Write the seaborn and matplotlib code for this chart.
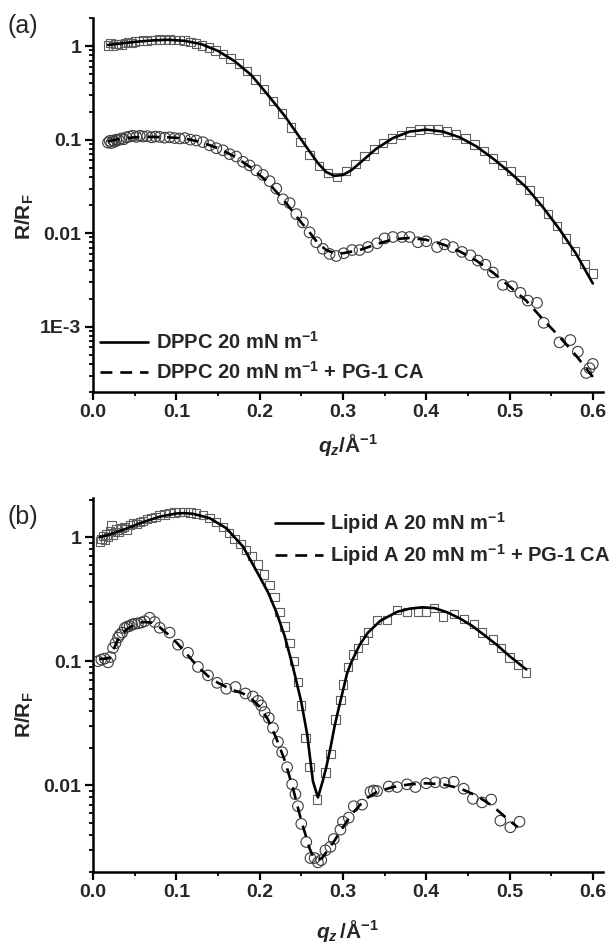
import matplotlib
matplotlib.use("Agg")
import matplotlib.pyplot as plt
import seaborn as sns
import numpy as np
from matplotlib.ticker import (LogLocator, MultipleLocator, FuncFormatter,
                               NullFormatter, FormatStrFormatter)

# ---------------- data: panel (a) DPPC ----------------
qa_sq = [0.018, 0.021, 0.024, 0.027, 0.030, 0.034, 0.038, 0.042, 0.046, 0.050,
         0.055, 0.060, 0.065, 0.070, 0.075, 0.080, 0.086, 0.092, 0.098, 0.104,
         0.110, 0.117, 0.124, 0.131, 0.139, 0.147, 0.156, 0.165, 0.175, 0.185,
         0.195, 0.205, 0.216, 0.227, 0.238, 0.249, 0.260, 0.271, 0.282, 0.293,
         0.304, 0.315, 0.326, 0.337, 0.348, 0.359, 0.370, 0.381, 0.392, 0.403,
         0.414, 0.425, 0.436, 0.447, 0.458, 0.469, 0.480, 0.491, 0.502, 0.513,
         0.524, 0.535, 0.546, 0.557, 0.568, 0.579, 0.590, 0.600]
ra_sq = [1.02, 1.08, 1.00, 1.05, 1.06, 1.04, 1.08, 1.10, 1.08, 1.12,
         1.13, 1.15, 1.14, 1.17, 1.16, 1.18, 1.17, 1.18, 1.17, 1.16,
         1.15, 1.10, 1.07, 1.02, 0.97, 0.90, 0.82, 0.74, 0.65, 0.54,
         0.44, 0.35, 0.26, 0.19, 0.135, 0.095, 0.068, 0.052, 0.044, 0.040,
         0.046, 0.055, 0.067, 0.080, 0.092, 0.103, 0.113, 0.122, 0.128, 0.131,
         0.128, 0.122, 0.114, 0.103, 0.089, 0.076, 0.063, 0.054, 0.046, 0.037,
         0.029, 0.022, 0.016, 0.012, 0.0088, 0.0065, 0.0047, 0.0037]

qa_fit1 = [0.018, 0.03, 0.05, 0.07, 0.09, 0.11, 0.13, 0.15, 0.17, 0.19,
           0.21, 0.23, 0.25, 0.27, 0.28, 0.29, 0.30, 0.31, 0.32, 0.34,
           0.36, 0.38, 0.40, 0.42, 0.44, 0.46, 0.48, 0.50, 0.52, 0.54,
           0.56, 0.58, 0.60]
ra_fit1 = [1.03, 1.06, 1.11, 1.15, 1.17, 1.14, 1.05, 0.89, 0.69, 0.49,
           0.30, 0.18, 0.10, 0.056, 0.045, 0.041, 0.042, 0.047, 0.056, 0.080,
           0.104, 0.122, 0.128, 0.122, 0.106, 0.085, 0.063, 0.045, 0.031, 0.019,
           0.011, 0.0060, 0.0029]

qa_ci = [0.018, 0.020, 0.022, 0.024, 0.026, 0.028, 0.031, 0.034, 0.037, 0.040,
         0.044, 0.048, 0.052, 0.056, 0.060, 0.065, 0.070, 0.075, 0.080, 0.086,
         0.092, 0.098, 0.104, 0.110, 0.117, 0.124, 0.132, 0.140, 0.148, 0.156,
         0.164, 0.172, 0.180, 0.188, 0.196, 0.204, 0.212, 0.220, 0.228, 0.236,
         0.244, 0.252, 0.260, 0.268, 0.276, 0.284, 0.292, 0.301, 0.311, 0.320,
         0.330, 0.341, 0.350, 0.360, 0.371, 0.380, 0.390, 0.400, 0.413, 0.422,
         0.432, 0.443, 0.453, 0.462, 0.471, 0.480, 0.492, 0.503, 0.513, 0.522,
         0.533, 0.541, 0.560, 0.573, 0.582, 0.592, 0.596, 0.600]
ra_ci = [0.093, 0.097, 0.092, 0.098, 0.095, 0.100, 0.099, 0.103, 0.101, 0.106,
         0.108, 0.110, 0.107, 0.110, 0.108, 0.109, 0.106, 0.108, 0.107, 0.105,
         0.106, 0.104, 0.103, 0.104, 0.100, 0.098, 0.094, 0.087, 0.081, 0.077,
         0.070, 0.066, 0.058, 0.053, 0.047, 0.042, 0.036, 0.030, 0.023, 0.021,
         0.016, 0.013, 0.0102, 0.0080, 0.0068, 0.0060, 0.0057, 0.0061, 0.0066, 0.0066,
         0.0071, 0.0078, 0.0088, 0.0091, 0.0091, 0.0091, 0.0080, 0.0082, 0.0071, 0.0076,
         0.0071, 0.0063, 0.0058, 0.0051, 0.0046, 0.0038, 0.0028, 0.0027, 0.0023, 0.0019,
         0.0018, 0.0011, 0.00068, 0.00072, 0.00054, 0.00032, 0.00036, 0.00040]

qa_fit2 = [0.018, 0.03, 0.05, 0.07, 0.09, 0.11, 0.13, 0.15, 0.17, 0.19,
           0.21, 0.23, 0.25, 0.26, 0.27, 0.28, 0.29, 0.30, 0.32, 0.34,
           0.36, 0.38, 0.40, 0.42, 0.44, 0.46, 0.48, 0.50, 0.52, 0.54,
           0.56, 0.58, 0.60]
ra_fit2 = [0.096, 0.101, 0.106, 0.107, 0.106, 0.103, 0.094, 0.081, 0.066, 0.050,
           0.035, 0.022, 0.013, 0.0102, 0.0078, 0.0066, 0.0061, 0.0061, 0.0066, 0.0076,
           0.0086, 0.0089, 0.0085, 0.0076, 0.0064, 0.0051, 0.0038, 0.0027, 0.0019, 0.0012,
           0.00078, 0.00049, 0.00029]

# ---------------- data: panel (b) Lipid A ----------------
qb_sq = [0.008, 0.010, 0.012, 0.014, 0.016, 0.018, 0.020, 0.022, 0.024, 0.026,
         0.028, 0.031, 0.034, 0.037, 0.040, 0.044, 0.048, 0.052, 0.056, 0.060,
         0.065, 0.070, 0.075, 0.080, 0.086, 0.092, 0.098, 0.104, 0.110, 0.117,
         0.124, 0.132, 0.140, 0.148, 0.156, 0.163, 0.170, 0.177, 0.184, 0.191,
         0.198, 0.205, 0.212, 0.218, 0.224, 0.230, 0.236, 0.241, 0.246, 0.250,
         0.255, 0.260, 0.269, 0.279, 0.285, 0.291, 0.297, 0.300, 0.306, 0.312,
         0.318, 0.325, 0.330, 0.341, 0.353, 0.365, 0.377, 0.390, 0.400, 0.409,
         0.420, 0.433, 0.445, 0.457, 0.467, 0.480, 0.490, 0.500, 0.510, 0.520]
rb_sq = [0.92, 0.97, 1.02, 0.95, 1.05, 1.00, 1.12, 1.25, 1.05, 1.10,
         1.15, 1.10, 1.18, 1.20, 1.15, 1.25, 1.30, 1.28, 1.33, 1.35,
         1.40, 1.42, 1.45, 1.50, 1.52, 1.56, 1.58, 1.60, 1.60, 1.58,
         1.55, 1.50, 1.42, 1.32, 1.20, 1.08, 0.97, 0.88, 0.79, 0.70,
         0.60, 0.50, 0.41, 0.33, 0.25, 0.19, 0.14, 0.10, 0.068, 0.044,
         0.024, 0.014, 0.0077, 0.0127, 0.018, 0.034, 0.049, 0.065, 0.090, 0.113,
         0.128, 0.149, 0.170, 0.215, 0.215, 0.260, 0.250, 0.250, 0.250, 0.270,
         0.230, 0.240, 0.220, 0.200, 0.170, 0.150, 0.128, 0.107, 0.094, 0.081]

qb_fit1 = [0.008, 0.02, 0.04, 0.06, 0.08, 0.10, 0.11, 0.12, 0.14, 0.16,
           0.18, 0.20, 0.21, 0.22, 0.23, 0.24, 0.25, 0.257, 0.264, 0.27,
           0.276, 0.28, 0.285, 0.29, 0.295, 0.30, 0.305, 0.31, 0.32, 0.33,
           0.345, 0.365, 0.38, 0.395, 0.41, 0.425, 0.44, 0.455, 0.47, 0.485,
           0.50, 0.52]
rb_fit1 = [1.00, 1.05, 1.17, 1.32, 1.46, 1.55, 1.56, 1.54, 1.42, 1.18,
           0.84, 0.48, 0.36, 0.25, 0.16, 0.090, 0.047, 0.026, 0.0108, 0.0080,
           0.0110, 0.014, 0.020, 0.030, 0.042, 0.058, 0.080, 0.098, 0.135, 0.170,
           0.212, 0.250, 0.265, 0.272, 0.268, 0.248, 0.222, 0.193, 0.162, 0.135,
           0.110, 0.086]

qb_ci = [0.006, 0.010, 0.014, 0.018, 0.021, 0.024, 0.027, 0.030, 0.032, 0.035,
         0.038, 0.041, 0.044, 0.047, 0.050, 0.054, 0.058, 0.062, 0.068, 0.074,
         0.080, 0.092, 0.102, 0.114, 0.126, 0.138, 0.149, 0.160, 0.171, 0.183,
         0.192, 0.198, 0.202, 0.206, 0.211, 0.216, 0.222, 0.227, 0.233, 0.239,
         0.243, 0.246, 0.250, 0.256, 0.261, 0.266, 0.270, 0.274, 0.279, 0.285,
         0.289, 0.297, 0.300, 0.307, 0.313, 0.323, 0.333, 0.337, 0.341, 0.355,
         0.365, 0.377, 0.387, 0.400, 0.411, 0.422, 0.433, 0.445, 0.456, 0.467,
         0.478, 0.489, 0.501, 0.512]
rb_ci = [0.100, 0.103, 0.105, 0.098, 0.108, 0.128, 0.140, 0.155, 0.163, 0.170,
         0.185, 0.190, 0.192, 0.198, 0.200, 0.202, 0.205, 0.210, 0.224, 0.207,
         0.186, 0.170, 0.136, 0.117, 0.090, 0.077, 0.067, 0.060, 0.062, 0.055,
         0.052, 0.048, 0.044, 0.039, 0.035, 0.029, 0.0224, 0.0185, 0.014, 0.0102,
         0.0085, 0.0068, 0.0049, 0.0035, 0.0026, 0.0026, 0.0024, 0.0025, 0.0030, 0.0032,
         0.0037, 0.0044, 0.0051, 0.0055, 0.0068, 0.0070, 0.0089, 0.0091, 0.0090, 0.0098,
         0.0097, 0.0102, 0.0097, 0.0104, 0.0106, 0.0105, 0.0107, 0.0094, 0.0078, 0.0073,
         0.0077, 0.0052, 0.0046, 0.0051]

qb_fit2 = [0.008, 0.02, 0.03, 0.04, 0.05, 0.06, 0.07, 0.08, 0.09, 0.10,
           0.11, 0.12, 0.13, 0.14, 0.15, 0.16, 0.17, 0.18, 0.19, 0.20,
           0.21, 0.22, 0.23, 0.24, 0.25, 0.26, 0.265, 0.27, 0.275, 0.28,
           0.29, 0.30, 0.31, 0.32, 0.33, 0.34, 0.36, 0.38, 0.40, 0.42,
           0.44, 0.46, 0.48, 0.50, 0.51]
rb_fit2 = [0.104, 0.106, 0.150, 0.180, 0.198, 0.207, 0.205, 0.188, 0.165, 0.142,
           0.120, 0.100, 0.085, 0.074, 0.067, 0.062, 0.058, 0.055, 0.050, 0.043,
           0.034, 0.024, 0.016, 0.0095, 0.0052, 0.0031, 0.0026, 0.0025, 0.0026, 0.0029,
           0.0036, 0.0046, 0.0058, 0.0069, 0.0080, 0.0088, 0.0097, 0.0102, 0.0104, 0.0102,
           0.0095, 0.0083, 0.0068, 0.0052, 0.0046]

labels_a = [r"DPPC 20 mN m$^{\mathbf{-1}}$",
            r"DPPC 20 mN m$^{\mathbf{-1}}$ + PG-1 CA"]
labels_b = [r"Lipid A 20 mN m$^{\mathbf{-1}}$",
            r"Lipid A 20 mN m$^{\mathbf{-1}}$ + PG-1 CA"]
ytick_text = {1.0: "1", 0.1: "0.1", 0.01: "0.01", 0.001: "1E-3"}

# ---------------- style ----------------
sns.set_theme(style="ticks")
plt.rcParams["font.family"] = ["Liberation Sans", "DejaVu Sans"]
plt.rcParams["font.weight"] = "bold"
plt.rcParams["mathtext.fontset"] = "custom"
plt.rcParams["mathtext.rm"] = "Liberation Sans"
plt.rcParams["mathtext.bf"] = "Liberation Sans:bold"
plt.rcParams["mathtext.it"] = "Liberation Sans:italic"
have_bfit = True
try:
    plt.rcParams["mathtext.bfit"] = "Liberation Sans:italic:bold"
except KeyError:
    have_bfit = False

fig = plt.figure(figsize=(6.12, 9.47), dpi=100)
ax_a = fig.add_axes([0.152, 0.586, 0.833, 0.395])
ax_b = fig.add_axes([0.152, 0.079, 0.833, 0.395])

LW = 1.9
dash = (0, (4.5, 3.0))


def draw(ax, qs, rs, qc, rc, qf1, rf1, qf2, rf2, labs, ylim, ylab_y):
    ax.set_yscale("log")
    sns.scatterplot(x=qs, y=rs, ax=ax, marker="s", s=36, facecolor="none",
                    edgecolor="#606060", linewidth=0.8, zorder=2)
    sns.scatterplot(x=qc, y=rc, ax=ax, marker="o", s=58, facecolor="none",
                    edgecolor="#3c3c3c", linewidth=0.8, zorder=2)
    sns.lineplot(x=qf1, y=rf1, ax=ax, color="black", lw=LW, sort=False,
                 estimator=None, label=labs[0], zorder=3)
    sns.lineplot(x=qf2, y=rf2, ax=ax, color="black", lw=LW, linestyle=dash,
                 sort=False, estimator=None, label=labs[1], zorder=3)
    ax.set_xlim(0, 0.612)
    ax.set_ylim(*ylim)
    ax.xaxis.set_major_locator(MultipleLocator(0.1))
    ax.xaxis.set_minor_locator(MultipleLocator(0.05))
    ax.xaxis.set_major_formatter(FormatStrFormatter("%.1f"))
    ax.yaxis.set_major_locator(LogLocator(base=10, numticks=10))
    ax.yaxis.set_minor_locator(LogLocator(base=10, subs=np.arange(2, 10), numticks=20))
    ax.yaxis.set_minor_formatter(NullFormatter())
    ax.yaxis.set_major_formatter(FuncFormatter(
        lambda v, p: ytick_text.get(round(v, 6), "")))
    for side in ["top", "right"]:
        ax.spines[side].set_visible(False)
    for side in ["left", "bottom"]:
        ax.spines[side].set_linewidth(1.8)
        ax.spines[side].set_color("black")
    ax.tick_params(which="major", direction="out", length=5.5, width=1.6,
                   labelsize=14, pad=3, color="black")
    ax.tick_params(which="minor", direction="out", length=3.0, width=1.3,
                   color="black")
    ax.set_ylabel(r"$\mathbf{R/R}_{\mathbf{F}}$", fontsize=15)
    ax.yaxis.set_label_coords(-0.112, ylab_y)


draw(ax_a, qa_sq, ra_sq, qa_ci, ra_ci, qa_fit1, ra_fit1, qa_fit2, ra_fit2,
     labels_a, (2.0e-4, 2.0), 0.47)
draw(ax_b, qb_sq, rb_sq, qb_ci, rb_ci, qb_fit1, rb_fit1, qb_fit2, rb_fit2,
     labels_b, (2.0e-3, 2.06), 0.42)

if have_bfit:
    xl_a = r"$\mathbfit{q}_{\mathbfit{z}}\mathbf{/Å}^{\mathbf{-1}}$"
    xl_b = r"$\mathbfit{q}_{\mathbfit{z}}\,\mathbf{/Å}^{\mathbf{-1}}$"
else:
    xl_a = r"$q_{z}\mathbf{/Å}^{\mathbf{-1}}$"
    xl_b = r"$q_{z}\,\mathbf{/Å}^{\mathbf{-1}}$"
ax_a.set_xlabel(xl_a, fontsize=15, labelpad=8)
ax_b.set_xlabel(xl_b, fontsize=15, labelpad=12)

leg_kw = dict(frameon=False, fontsize=14.5, handlelength=2.4, handletextpad=0.35,
              borderpad=0, borderaxespad=0, loc="upper left")
ax_a.legend(bbox_to_anchor=(0.014, 0.164), labelspacing=0.42, **leg_kw)
ax_b.legend(bbox_to_anchor=(0.357, 0.968), labelspacing=0.30, **leg_kw)

fig.text(0.013, 0.973, "(a)", fontsize=18, fontweight="normal", va="center")
fig.text(0.013, 0.454, "(b)", fontsize=18, fontweight="normal", va="center")

fig.savefig("out.png", dpi=100)
